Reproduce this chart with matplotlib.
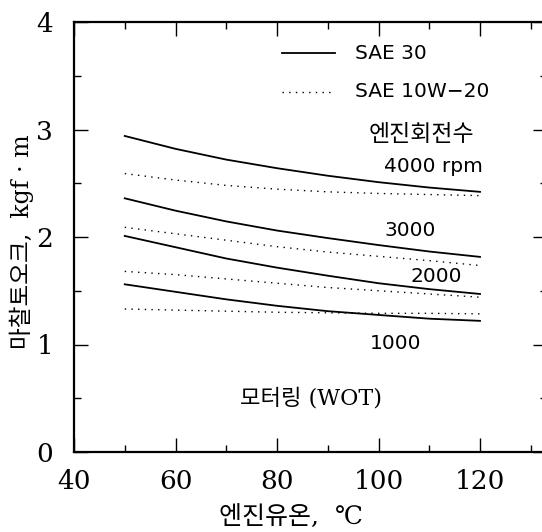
"""엔진유온에 따른 마찰토오크 (모터링, WOT) 재현."""

import matplotlib.pyplot as plt
from matplotlib.ticker import MultipleLocator

KR = ["Noto Sans CJK KR", "DejaVu Sans"]
SERIF_KR = ["DejaVu Serif", "Noto Sans CJK KR"]

# 데이터
oil_temp = [50, 60, 70, 80, 90, 100, 110, 120]

sae30_4000 = [2.94, 2.82, 2.72, 2.64, 2.57, 2.51, 2.46, 2.42]
sae30_3000 = [2.36, 2.245, 2.145, 2.06, 1.99, 1.925, 1.865, 1.815]
sae30_2000 = [2.01, 1.905, 1.80, 1.715, 1.64, 1.57, 1.515, 1.47]
sae30_1000 = [1.56, 1.49, 1.42, 1.36, 1.31, 1.275, 1.24, 1.22]

sae10w20_4000 = [2.59, 2.53, 2.48, 2.445, 2.42, 2.405, 2.395, 2.385]
sae10w20_3000 = [2.09, 2.03, 1.97, 1.91, 1.86, 1.82, 1.78, 1.735]
sae10w20_2000 = [1.68, 1.65, 1.61, 1.57, 1.53, 1.50, 1.47, 1.44]
sae10w20_1000 = [1.33, 1.32, 1.31, 1.30, 1.295, 1.29, 1.29, 1.285]

rpm_labels = ["4000 rpm", "3000", "2000", "1000"]
rpm_label_x = [110.8, 106.2, 111.3, 103.4]
rpm_label_y = [2.66, 2.06, 1.63, 1.01]

fig = plt.figure(figsize=(5.42, 5.32), dpi=100)
ax = fig.add_axes([74 / 542, 80 / 532, 473 / 542, 430 / 532])

solid = dict(color="black", lw=1.3, ls="-")
dotted = dict(color="black", lw=1.0, ls=(0, (1, 3.8)))

for ys in (sae30_4000, sae30_3000, sae30_2000, sae30_1000):
    ax.plot(oil_temp, ys, **solid)
for ys in (sae10w20_4000, sae10w20_3000, sae10w20_2000, sae10w20_1000):
    ax.plot(oil_temp, ys, **dotted)

ax.set_xlim(40, 133.2)
ax.set_ylim(0, 4)
ax.xaxis.set_major_locator(MultipleLocator(20))
ax.xaxis.set_minor_locator(MultipleLocator(10))
ax.yaxis.set_major_locator(MultipleLocator(1))
ax.yaxis.set_minor_locator(MultipleLocator(0.5))
ax.tick_params(which="both", direction="in", top=True, right=True,
               width=1.0, labelsize=19)
ax.tick_params(axis="x", pad=12)
ax.tick_params(axis="y", pad=15)
ax.tick_params(which="major", length=10)
ax.tick_params(which="minor", length=5)
for lab in ax.get_xticklabels() + ax.get_yticklabels():
    lab.set_family("DejaVu Serif")
for sp in ax.spines.values():
    sp.set_linewidth(1.6)

# 범례 (축 안에 직접 그림)
leg_x0, leg_x1, leg_tx = 81.0, 91.4, 95.4
ax.plot([leg_x0, leg_x1], [3.71, 3.71], **solid)
ax.plot([leg_x0, leg_x1], [3.35, 3.35], **dotted)
ax.text(leg_tx, 3.71, "SAE 30", fontsize=14.5, va="center",
        family="DejaVu Sans")
ax.text(leg_tx, 3.35, "SAE 10W\u221220", fontsize=14.5, va="center",
        family="DejaVu Sans")

ax.text(108.4, 2.95, "엔진회전수", fontsize=16.5, ha="center", va="center",
        family=KR)
for lx, ly, lab in zip(rpm_label_x, rpm_label_y, rpm_labels):
    ax.text(lx, ly, lab, fontsize=14.5, ha="center", va="center",
            family="DejaVu Sans")
ax.text(86.7, 0.50, "모터링 (WOT)", fontsize=16, ha="center", va="center",
        family=SERIF_KR)

fig.text(291 / 542, 1 - 517 / 532, "엔진유온,  ℃", fontsize=18, ha="center",
         va="center", family=SERIF_KR)
fig.text(22 / 542, 1 - 242 / 532, "마찰토오크,  kgf · m", fontsize=17,
         ha="center", va="center", rotation=90, family=SERIF_KR)

fig.savefig("out.png", dpi=100)
